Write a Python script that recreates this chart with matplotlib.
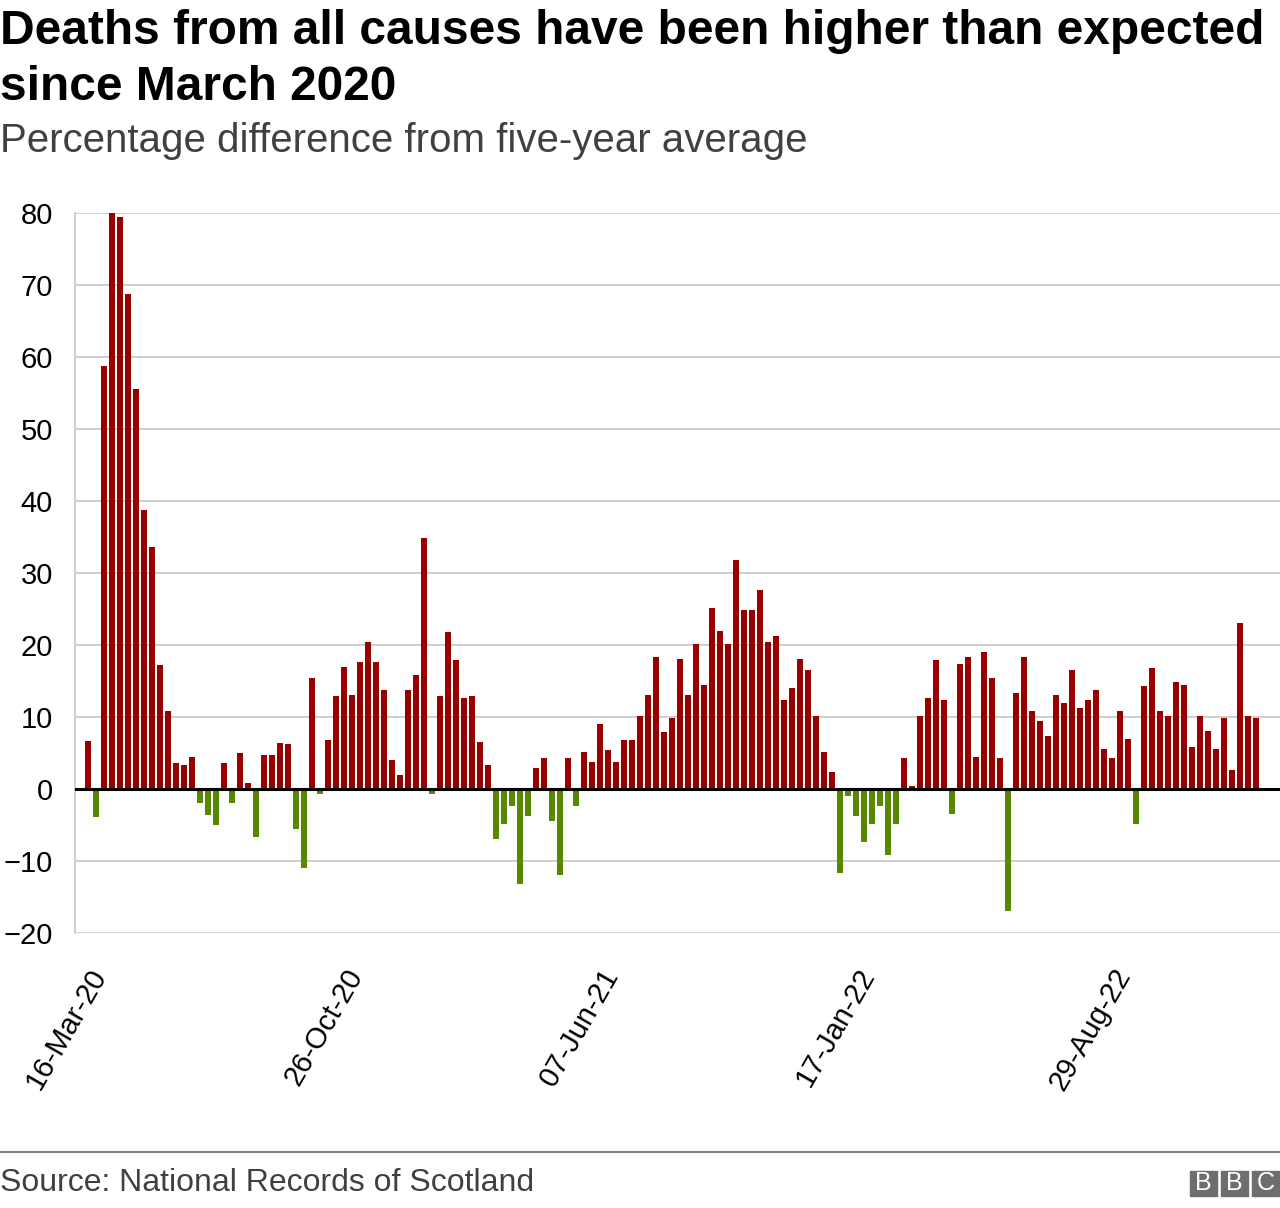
import matplotlib
matplotlib.use("Agg")
import matplotlib.pyplot as plt
from matplotlib.patches import Rectangle

plt.rcParams['font.family'] = ['Liberation Sans', 'DejaVu Sans']

# Weekly % difference from five-year average, week beginning 16-Mar-20 onwards
values = [
    6.7, -3.9, 58.8, 80.0, 79.4, 68.8, 55.5, 38.8, 33.6, 17.2,
    10.8, 3.6, 3.3, 4.4, -1.9, -3.6, -5.0, 3.6, -1.9, 5.0,
    0.8, -6.7, 4.7, 4.7, 6.4, 6.2, -5.5, -11.0, 15.4, -0.7,
    6.8, 12.9, 17.0, 13.1, 17.6, 20.4, 17.6, 13.7, 4.0, 2.0,
    13.7, 15.9, 34.8, -0.7, 12.9, 21.8, 17.9, 12.6, 12.9, 6.5,
    3.4, -6.9, -4.9, -2.4, -13.2, -3.8, 2.9, 4.3, -4.4, -11.9,
    4.3, -2.4, 5.1, 3.7, 9.0, 5.4, 3.7, 6.8, 6.8, 10.1,
    13.1, 18.4, 7.9, 9.8, 18.1, 13.1, 20.1, 14.5, 25.1, 22.0,
    20.1, 31.8, 24.8, 24.8, 27.6, 20.4, 21.2, 12.3, 14.0, 18.1,
    16.5, 10.1, 5.1, 2.3, -11.6, -1.0, -3.8, -7.4, -4.9, -2.4,
    -9.1, -4.9, 4.3, 0.4, 10.1, 12.6, 17.9, 12.3, -3.5, 17.3,
    18.4, 4.5, 19.0, 15.4, 4.3, -16.9, 13.4, 18.4, 10.9, 9.5,
    7.3, 13.1, 12.0, 16.5, 11.2, 12.3, 13.7, 5.6, 4.3, 10.9,
    7.0, -4.9, 14.3, 16.8, 10.9, 10.1, 14.8, 14.5, 5.9, 10.1,
    8.1, 5.6, 9.8, 2.6, 23.1, 10.1, 9.8,
]
tick_weeks = [0, 32, 64, 96, 128]
tick_labels = ["16-Mar-20", "26-Oct-20", "07-Jun-21", "17-Jan-22", "29-Aug-22"]
y_ticks = [-20, -10, 0, 10, 20, 30, 40, 50, 60, 70, 80]

W, H = 1280, 1208
fig = plt.figure(figsize=(W / 100, H / 100), dpi=100)
ax = fig.add_axes([75 / W, 1 - 933 / H, 1 - 75 / W, (933 - 213) / H])

weeks = list(range(len(values)))
colors = ['#990000' if v >= 0 else '#588700' for v in values]
ax.bar(weeks, values, width=0.75, color=colors, zorder=3)
ax.axhline(0, color='black', linewidth=2.2, zorder=4)

ax.set_ylim(-20, 80)
ax.set_xlim(-1.625, 149)
ax.set_yticks(y_ticks)
ax.set_xticks(tick_weeks)
ax.set_xticklabels(tick_labels, rotation=60, ha='right', va='top',
                   rotation_mode='anchor')
ax.tick_params(axis='y', length=0, pad=16, labelsize=21)
ax.tick_params(axis='x', length=0, pad=22, labelsize=21)
ax.grid(axis='y', color='#cccccc', linewidth=1.3, zorder=0)

for s in ['top', 'right', 'bottom']:
    ax.spines[s].set_visible(False)
ax.spines['left'].set_color('#cccccc')
ax.spines['left'].set_linewidth(1.3)

# Title and subtitle
fig.text(0.0, 1 - 9 / H, "Deaths from all causes have been higher than expected\nsince March 2020",
         fontsize=34.5, fontweight='bold', va='top', ha='left', linespacing=1.3)
fig.text(0.0, 1 - 141 / H, "Percentage difference from five-year average",
         fontsize=29, color='#404040', va='center', ha='left')

# Footer
fig.add_artist(plt.Line2D([0, 1], [1 - 1152 / H, 1 - 1152 / H], color='#808080',
                          linewidth=1.5, transform=fig.transFigure))
fig.text(0.0, 1 - 1183 / H, "Source: National Records of Scotland",
         fontsize=23, color='#404040', va='center', ha='left')

for i, letter in enumerate("BBC"):
    x0 = 1190 + i * 31
    fig.add_artist(Rectangle((x0 / W, 1 - 1196 / H), 27 / W, 25 / H,
                             color='#6e6e6e', transform=fig.transFigure))
    fig.text((x0 + 13.5) / W, 1 - 1183.5 / H, letter, color='white', fontsize=18,
             ha='center', va='center')

fig.savefig('out.png', dpi=100)
